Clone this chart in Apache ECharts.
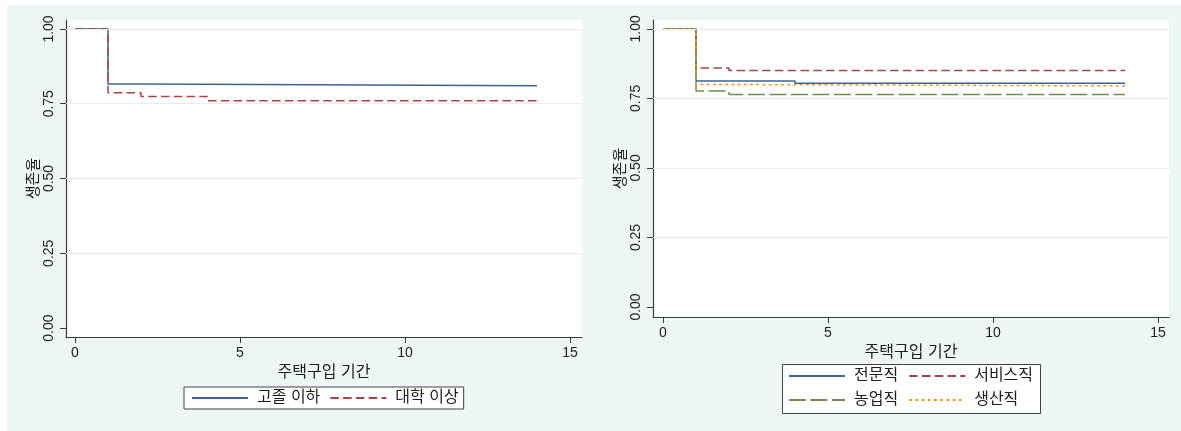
<!DOCTYPE html>
<html>
<head>
<meta charset="utf-8">
<script src="https://cdn.jsdelivr.net/npm/echarts@6/dist/echarts.min.js"></script>
<style>
html, body { margin: 0; background: #fff; }
#chart { position: absolute; left: 7px; top: 5px; width: 1174px; height: 426px; }
</style>
</head>
<body>
<div id="chart"></div>
<script>
// --- Data (Kaplan-Meier step points: [time, survival]) ---

const eduNames = ['고졸 이하', '대학 이상'];
const eduHighSchool = [[0, 1], [1, 0.816], [2, 0.810], [14, 0.810]];
const eduCollege = [[0, 1], [1, 0.787], [2, 0.774], [4, 0.760], [14, 0.760]];

const jobNames = ['전문직', '서비스직', '농업직', '생산직'];
const jobPro = [[0, 1], [1, 0.813], [4, 0.805], [14, 0.805]];
const jobService = [[0, 1], [1, 0.859], [2, 0.850], [14, 0.850]];
const jobFarm = [[0, 1], [1, 0.777], [2, 0.764], [14, 0.764]];
const jobProd = [[0, 1], [1, 0.800], [2, 0.795], [14, 0.795]];

const xTicks = [0, 5, 10, 15];
const yTicks = [0, 0.25, 0.5, 0.75, 1];
const gridValues = [0.25, 0.5, 0.75, 1];

const xTitle = '주택구입 기간';
const yTitle = '생존율';

// --- Styling helpers ---

const FONT = "'Liberation Sans', 'Noto Sans CJK KR', sans-serif";
const TEXT = '#1e1e1e';
const AXIS = '#3a3a3a';
const COLORS = { navy: '#3d6390', maroon: '#a6444b', green: '#6e8e4a', orange: '#f0992c' };

const makeX = (idx, min, max) => ({
    type: 'value', gridIndex: idx, min, max,
    name: xTitle, nameLocation: 'middle', nameGap: 26,
    nameTextStyle: { fontFamily: FONT, fontSize: 16, color: TEXT },
    axisLine: { show: true, onZero: false, lineStyle: { color: AXIS, width: 1.2 } },
    axisTick: { show: true, length: 6, customValues: xTicks, lineStyle: { color: AXIS } },
    axisLabel: { customValues: xTicks, margin: 9, fontFamily: FONT, fontSize: 14, color: TEXT },
    splitLine: { show: false }
});

const makeY = (idx, min, max) => ({
    type: 'value', gridIndex: idx, min, max,
    name: yTitle, nameLocation: 'middle', nameGap: 23,
    nameTextStyle: { fontFamily: FONT, fontSize: 15, color: TEXT },
    axisLine: { show: true, onZero: false, lineStyle: { color: AXIS, width: 1.2 } },
    axisTick: { show: true, length: 6, customValues: yTicks, lineStyle: { color: AXIS } },
    axisLabel: {
        customValues: yTicks, rotate: 90, margin: 10,
        fontFamily: FONT, fontSize: 14, color: TEXT,
        formatter: (v) => v.toFixed(2)
    },
    splitLine: { show: false }
});

const gridMark = {
    silent: true, symbol: 'none', label: { show: false },
    lineStyle: { color: '#e4eef0', width: 1, type: 'solid' },
    data: gridValues.map((v) => ({ yAxis: v }))
};

const makeLine = (name, data, idx, color, type, withGrid) => ({
    name, type: 'line', data, step: 'end',
    xAxisIndex: idx, yAxisIndex: idx,
    symbol: 'none', animation: false,
    lineStyle: { color, width: 1.5, type },
    itemStyle: { color },
    markLine: withGrid ? gridMark : undefined
});

const legendBase = {
    itemWidth: 56, itemHeight: 14, itemGap: 10,
    itemStyle: { opacity: 0, borderWidth: 0 },
    textStyle: { fontFamily: FONT, fontSize: 16, color: TEXT, padding: [0, 0, 0, 4] }
};

// --- Chart ---

const chart = echarts.init(document.getElementById('chart'));

chart.setOption({
    backgroundColor: '#edf5f6',
    animation: false,
    grid: [
        { left: 59, top: 15, width: 516, height: 317, show: true, backgroundColor: '#fff', borderWidth: 0 },
        { left: 646, top: 15, width: 516, height: 297, show: true, backgroundColor: '#fff', borderWidth: 0 }
    ],
    xAxis: [makeX(0, -0.273, 15.364), makeX(1, -0.303, 15.333)],
    yAxis: [makeY(0, -0.030, 1.030), makeY(1, -0.036, 1.032)],
    graphic: [{
        type: 'rect', z: 0,
        shape: { x: 775.5, y: 359.5, width: 258, height: 49 },
        style: { fill: '#fff', stroke: '#444', lineWidth: 1 }
    }],
    legend: [
        Object.assign({}, legendBase, {
            data: eduNames, left: 177, top: 382, padding: [3, 5, 3, 7], itemGap: 9,
            backgroundColor: '#fff', borderColor: '#444', borderWidth: 1, borderRadius: 0
        }),
        Object.assign({}, legendBase, { data: [jobNames[0], jobNames[1]], left: 776, top: 363, padding: [0, 0, 0, 5] }),
        Object.assign({}, legendBase, { data: [jobNames[2], jobNames[3]], left: 776, top: 387, padding: [0, 0, 0, 5] })
    ],
    series: [
        makeLine(eduNames[0], eduHighSchool, 0, COLORS.navy, 'solid', true),
        makeLine(eduNames[1], eduCollege, 0, COLORS.maroon, [8.5, 4.3], false),
        makeLine(jobNames[0], jobPro, 1, COLORS.navy, 'solid', true),
        makeLine(jobNames[1], jobService, 1, COLORS.maroon, [8.5, 4.3], false),
        makeLine(jobNames[2], jobFarm, 1, COLORS.green, [17, 4.5], false),
        makeLine(jobNames[3], jobProd, 1, COLORS.orange, [3, 3.2], false)
    ]
});
</script>
</body>
</html>
